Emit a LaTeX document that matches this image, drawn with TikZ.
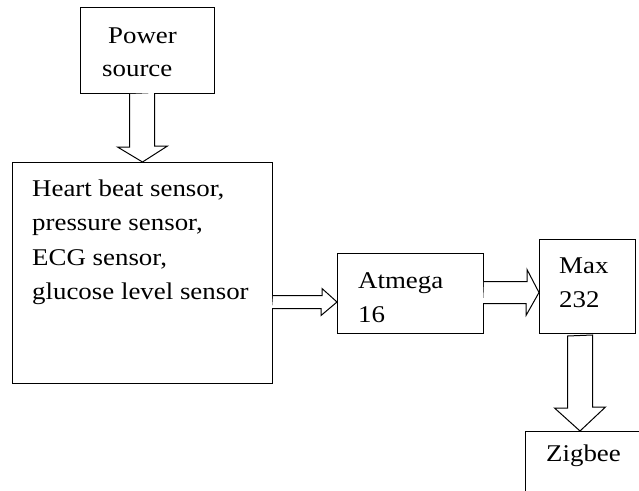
\documentclass[tikz,border=0pt]{standalone}
\usepackage{fontspec}
\setmainfont[FakeStretch=1.12]{Liberation Serif}
\begin{document}
\begin{tikzpicture}[x=1pt,y=-1pt,
  box/.style={draw,line width=1pt,inner sep=0pt,anchor=north west,fill=white},
  txt/.style={anchor=base west,inner sep=0pt,font=\fontsize{24}{28}\selectfont},
  blk/.style={draw,line width=1pt,fill=white,line join=miter}]
\useasboundingbox (0,0) rectangle (639,490);
\clip (0,0) rectangle (639,490);
% boxes
\node[box,minimum width=134pt,minimum height=86pt] (pwr) at (80,7) {};
\node[box,minimum width=260pt,minimum height=221pt] (sens) at (12,162) {};
\node[box,minimum width=146pt,minimum height=80pt] (atm) at (337,253) {};
\node[box,minimum width=96pt,minimum height=94pt] (max) at (539,239) {};
\node[box,minimum width=200pt,minimum height=150pt] (zig) at (525,431) {};
% texts
\node[txt] (p1) at (108,43) {Power};
\node[txt] (p2) at (102,76) {source};
\node[txt] (s1) at (32,196) {Heart beat sensor,};
\node[txt] (s2) at (32,230.5) {pressure sensor,};
\node[txt] (s3) at (32,265) {ECG sensor,};
\node[txt] (s4) at (32,299.5) {glucose level sensor};
\node[txt] (a1) at (358,288) {Atmega};
\node[txt] (a2) at (358,322) {16};
\node[txt] (m1) at (559,273) {Max};
\node[txt] (m2) at (559,307) {232};
\node[txt] (z1) at (546,461) {Zigbee};
% block arrows
\draw[blk] ([xshift=-18pt]pwr.south) -- ++(0,53) -- ++(-12,0) -- (sens.north)
  -- ++(25,-16) -- ++(-13,0) -- ++(0,-53);
\coordinate (t1) at ([yshift=-8.5pt]atm.west);
\draw[blk] (sens.east |- t1) ++(0,-6.5) -- ++(49,0) -- ++(0,-7) -- (t1)
  -- ++(-16,13.5) -- ++(0,-7) -- ++(-49,0);
\coordinate (t2) at ([yshift=-6pt]max.west);
\draw[blk] (atm.east |- t2) ++(0,-11) -- ++(43,0) -- ++(0,-12) -- (t2)
  -- ++(-13,23) -- ++(0,-12) -- ++(-43,0);
\coordinate (t3) at ([xshift=55pt]zig.north west);
\draw[blk] (t3 |- max.south) ++(-12.5,2) -- ++(0,72) -- ++(-13,0) -- (t3)
  -- ++(25.5,-24) -- ++(-13,0) -- ++(0,-72) -- cycle;
\end{tikzpicture}
\end{document}
